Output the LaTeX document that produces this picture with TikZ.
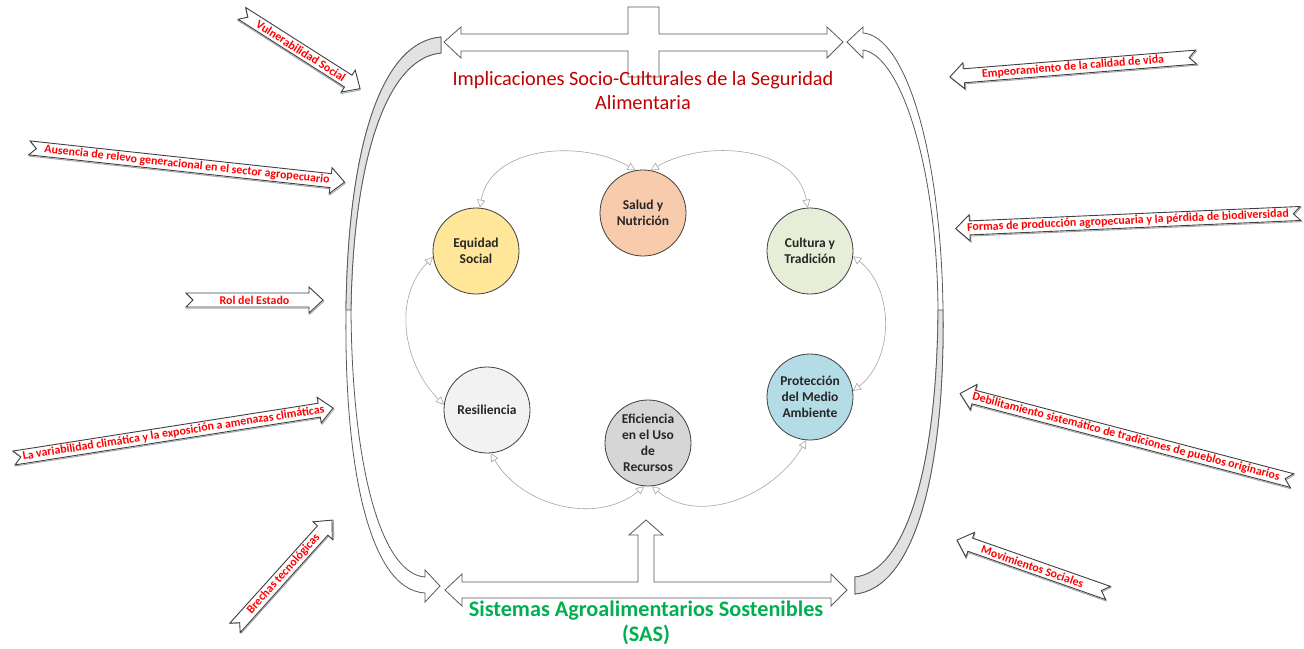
\documentclass[tikz,border=0pt]{standalone}
\usepackage{fontspec}
\setmainfont{Carlito}
\usetikzlibrary{arrows.meta}
\definecolor{titlered}{HTML}{C00000}
\definecolor{sasgreen}{HTML}{00B050}
\definecolor{ribred}{HTML}{FF0000}
\definecolor{edge}{HTML}{595959}
\definecolor{ribedge}{HTML}{404040}
\definecolor{bandgray}{HTML}{E2E2E2}
\definecolor{ringgray}{HTML}{A6A6A6}
\definecolor{circedge}{HTML}{404040}
\definecolor{cSalud}{HTML}{F8CBAD}
\definecolor{cEquidad}{HTML}{FFE699}
\definecolor{cCultura}{HTML}{E6EED8}
\definecolor{cProt}{HTML}{B4DCE6}
\definecolor{cRes}{HTML}{F2F2F2}
\definecolor{cEfi}{HTML}{D6D6D6}
\newcommand\ribR[5]{%
  \begin{scope}[shift={#2}, rotate=#3]
    \pgfmathsetmacro\hl{#4/2}
    \draw[ribshadow, shift={(0.8,1.2)}] (-\hl,-7) -- ({\hl-14},-7) -- ({\hl-14},-13) -- (\hl,0) -- ({\hl-14},13) -- ({\hl-14},7) -- (-\hl,7) -- ({-\hl+7},0) -- cycle;
    \draw[ribbon] (-\hl,-7) -- ({\hl-14},-7) -- ({\hl-14},-13) -- (\hl,0) -- ({\hl-14},13) -- ({\hl-14},7) -- (-\hl,7) -- ({-\hl+7},0) -- cycle;
    \node[ribtext, rotate=#3] (#1) at (0,0) {#5};
  \end{scope}}
\newcommand\ribL[5]{%
  \begin{scope}[shift={#2}, rotate=#3]
    \pgfmathsetmacro\hl{#4/2}
    \draw[ribshadow, shift={(0.8,1.2)}] (\hl,-7) -- ({-\hl+14},-7) -- ({-\hl+14},-13) -- (-\hl,0) -- ({-\hl+14},13) -- ({-\hl+14},7) -- (\hl,7) -- ({\hl-7},0) -- cycle;
    \draw[ribbon] (\hl,-7) -- ({-\hl+14},-7) -- ({-\hl+14},-13) -- (-\hl,0) -- ({-\hl+14},13) -- ({-\hl+14},7) -- (\hl,7) -- ({\hl-7},0) -- cycle;
    \node[ribtext, rotate=#3] (#1) at (0,0) {#5};
  \end{scope}}
\begin{document}
\begin{tikzpicture}[x=1pt,y=-1pt,
  blk/.style={draw=edge, line width=0.8pt, fill=white, line join=miter},
  band/.style={draw=edge, line width=0.8pt, fill=bandgray, line join=miter},
  circ/.style={circle, draw=circedge, line width=0.8pt, minimum size=86pt, inner sep=0pt, align=center, font=\bfseries\fontsize{13.5}{16}\selectfont, text=black!85},
  ring/.style={draw=ringgray, line width=0.6pt, {Triangle[open,length=8pt,width=8pt]}-{Triangle[open,length=8pt,width=8pt]}},
  ribbon/.style={draw=ribedge, line width=0.9pt, fill=white, line join=miter},
  ribshadow/.style={draw=black!35, line width=0.9pt, line join=miter},
  ribtext/.style={text=ribred, font=\bfseries\fontsize{11.9}{13}\selectfont, inner sep=0pt}]
\useasboundingbox (0,0) rectangle (1304,648);
\fill[white] (0,0) rectangle (1304,648);

% top double arrow with cross
\draw[blk] (444,42) -- (461,27) -- (461,34) -- (628,34) -- (628,7) -- (659,7) -- (659,34) -- (827,34) -- (827,27) -- (843,42) -- (827,58) -- (827,51) -- (659,51) -- (659,77) -- (628,77) -- (628,51) -- (461,51) -- (461,58) -- cycle;

% bottom double arrow with up arrow
\draw[blk] (445,590) -- (462,574) -- (462,582) -- (638,582) -- (638,535) -- (629,535) -- (646,520) -- (663,535) -- (654,535) -- (654,582) -- (831,582) -- (831,574) -- (847,590) -- (831,606) -- (831,598) -- (462,598) -- (462,606) -- cycle;

% left curved arrow
\draw[blk] (441,37) .. controls (380,42) and (348,150) .. (346,310) .. controls (344,470) and (370,590) .. (425,593) -- (425,602) -- (440,586) -- (425,570) -- (425,577) .. controls (382,574) and (352,470) .. (351,310) .. controls (353,165) and (385,58) .. (441,53) -- cycle;
\draw[band] (441,37) .. controls (380,42) and (348,150) .. (346,310) -- (351,310) .. controls (353,165) and (385,58) .. (441,53) -- cycle;

% right curved arrow
\draw[blk] (863,33) .. controls (905,36) and (941,150) .. (943,310) .. controls (945,470) and (915,588) .. (855,594) -- (855,577) .. controls (905,572) and (937,470) .. (938,310) .. controls (937,165) and (900,55) .. (863,50) -- (863,58) -- (847,42) -- (863,27) -- cycle;
\draw[band] (943,310) .. controls (945,470) and (915,588) .. (855,594) -- (855,577) .. controls (905,572) and (937,470) .. (938,310) -- cycle;

% titles
\node[text=titlered, align=center, inner sep=0pt, font=\fontsize{20.3}{24}\selectfont] (impl) at (643,91) {Implicaciones Socio-Culturales de la Seguridad\\Alimentaria};
\node[text=sasgreen, align=center, inner sep=0pt, font=\bfseries\fontsize{22.2}{25}\selectfont] (sas) at (646,623) {Sistemas Agroalimentarios Sostenibles\\(SAS)};

% circles
\node[circ, fill=cSalud] (sal) at (643,213) {Salud y\\Nutrición};
\node[circ, fill=cEquidad] (eq) at (476,251) {Equidad\\Social};
\node[circ, fill=cCultura] (cul) at (810,251) {Cultura y\\Tradición};
\node[circ, fill=cProt] (pro) at (810,397) {Protección\\del Medio\\Ambiente};
\node[circ, fill=cRes] (res) at (487,410) {Resiliencia};
\node[circ, fill=cEfi] (efi) at (648,443) {Eficiencia\\en el Uso\\de\\Recursos};

% ring connectors
\draw[ring] (sal.100) to[out=150,in=80] (eq.85);
\draw[ring] (sal.80) to[out=30,in=100] (cul.93);
\draw[ring] (eq.188) to[out=225,in=135] (res.173);
\draw[ring] (cul.353) to[out=-38,in=38] (pro.8);
\draw[ring] (res.-85) to[out=-60,in=-140] (efi.-95);
\draw[ring] (efi.-85) to[out=-40,in=-120] (pro.-95);

% ribbons left
\ribR{vul}{(301,51)}{-32.5}{140}{Vulnerabilidad Social}
\ribR{aus}{(187,165)}{-6.2}{317}{Ausencia de relevo generacional en el sector agropecuario}
\ribR{rol}{(254.5,300)}{0}{137}{Rol del Estado}
\ribR{var}{(173.5,433)}{8.9}{323}{La variabilidad climática y la exposición a amenazas climáticas}
\ribR{bre}{(283.5,574)}{48}{145}{Brechas tecnológicas}
% ribbons right
\ribL{emp}{(1073,67)}{4.6}{247}{Empeoramiento de la calidad de vida}
\ribL{for}{(1128,221)}{2.5}{345}{Formas de producción agropecuaria y la pérdida de biodiversidad}
\ribL{deb}{(1126,437)}{-14.7}{343}{Debilitamiento sistemático de tradiciones de pueblos originarios}
\ribL{mov}{(1032.5,566.5)}{-19.3}{160}{Movimientos Sociales}
\end{tikzpicture}
\end{document}
